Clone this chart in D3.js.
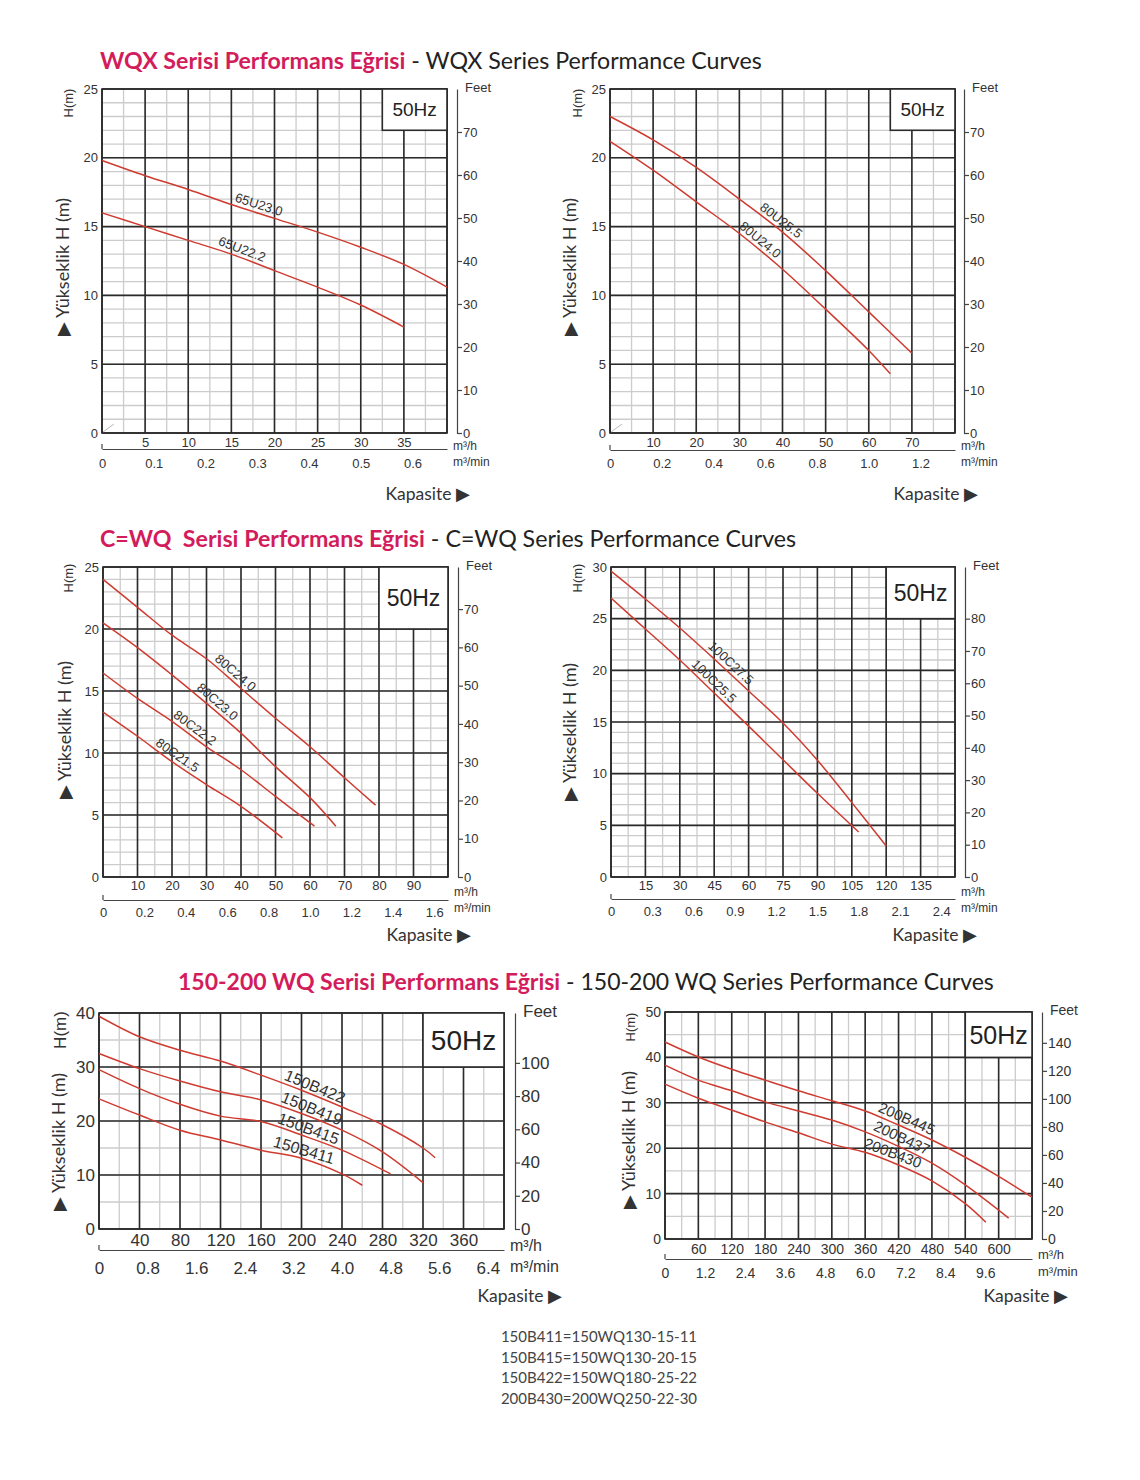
<!DOCTYPE html>
<html>
<head>
<meta charset="utf-8">
<script src="https://cdn.jsdelivr.net/npm/d3@7"></script>
<style>
  body { margin: 0; background: #fff; }
  svg { display: block; }
</style>
</head>
<body>
<svg id="chart" width="1140" height="1480"></svg>
<script>
// ---- curve data (flow m3/h, head m) ----
const q65U230 = [0, 5, 10, 15, 20, 25, 30, 35, 40];
const h65U230 = [19.8, 18.7, 17.7, 16.6, 15.6, 14.6, 13.5, 12.25, 10.6];
const q65U222 = [0, 5, 10, 15, 20, 25, 30, 35];
const h65U222 = [16.0, 15.0, 14.0, 13.0, 11.8, 10.6, 9.3, 7.7];

const q80U255 = [0, 10, 20, 30, 40, 50, 60, 70];
const h80U255 = [23.0, 21.3, 19.3, 17.0, 14.6, 11.8, 8.8, 5.8];
const q80U240 = [0, 10, 20, 30, 40, 50, 60, 65];
const h80U240 = [21.2, 19.1, 16.8, 14.5, 11.9, 9.0, 6.0, 4.3];

const q80C240 = [0, 10, 20, 30, 40, 50, 60, 70, 79];
const h80C240 = [24.0, 21.75, 19.5, 17.6, 15.2, 12.8, 10.5, 8.0, 5.8];
const q80C230 = [0, 10, 20, 30, 40, 50, 60, 67.5];
const h80C230 = [20.5, 18.5, 16.3, 14.0, 11.6, 8.9, 6.4, 4.1];
const q80C222 = [0, 10, 20, 30, 40, 50, 61.3];
const h80C222 = [16.45, 14.4, 12.55, 10.5, 8.65, 6.5, 4.1];
const q80C215 = [0, 10, 20, 30, 40, 52];
const h80C215 = [13.3, 11.35, 9.3, 7.45, 5.7, 3.15];

const q100C275 = [0, 15, 30, 45, 60, 75, 90, 105, 120];
const h100C275 = [29.6, 26.9, 24.1, 21.1, 18.0, 14.9, 11.3, 7.2, 3.0];
const q100C255 = [0, 15, 30, 45, 60, 75, 90, 108];
const h100C255 = [27.0, 24.0, 21.0, 17.8, 14.6, 11.35, 8.1, 4.35];

const q150B422 = [0, 40, 80, 120, 160, 200, 240, 280, 320, 332];
const h150B422 = [39.4, 35.6, 33.1, 31.1, 28.5, 25.7, 22.6, 19.3, 15.0, 13.2];
const q150B419 = [0, 40, 80, 120, 160, 200, 240, 280, 320];
const h150B419 = [32.5, 29.7, 27.4, 25.4, 23.9, 21.4, 18.3, 14.3, 8.6];
const q150B415 = [0, 40, 80, 120, 160, 200, 240, 288];
const h150B415 = [29.5, 26.0, 23.1, 20.9, 19.9, 17.4, 14.6, 10.2];
const q150B411 = [0, 40, 80, 120, 160, 200, 240, 260];
const h150B411 = [24.1, 21.1, 18.3, 16.5, 14.6, 13.1, 10.2, 8.1];

const q200B445 = [0, 60, 120, 180, 240, 300, 360, 420, 480, 540, 600, 660];
const h200B445 = [43.4, 40.1, 37.4, 35.0, 32.65, 30.45, 28.2, 25.1, 21.8, 18.0, 13.8, 9.2];
const q200B437 = [0, 60, 120, 180, 240, 300, 360, 420, 480, 540, 618];
const h200B437 = [38.3, 35.0, 32.65, 30.2, 28.2, 26.2, 23.6, 20.4, 16.7, 11.9, 4.6];
const q200B430 = [0, 60, 120, 180, 240, 300, 360, 420, 480, 540, 577];
const h200B430 = [34.1, 31.0, 28.4, 25.8, 23.4, 20.9, 19.1, 16.3, 12.8, 7.8, 3.7];

// ---- curve names and where their labels sit (flow) ----
const wqxLeftNames = ["65U23.0", "65U22.2"];
const wqxLeftLabelQ = [17.9, 15.9];
const wqxRightNames = ["80U25.5", "80U24.0"];
const wqxRightLabelQ = [38.5, 33.6];
const cwqLeftNames = ["80C24.0", "80C23.0", "80C22.2", "80C21.5"];
const cwqLeftLabelQ = [36.8, 31.6, 25.2, 20.2];
const cwqRightNames = ["100C27.5", "100C25.5"];
const cwqRightLabelQ = [49.8, 42.4];
const b150Names = ["150B422", "150B419", "150B415", "150B411"];
const b150LabelQ = [210, 207, 204, 200];
const b200Names = ["200B445", "200B437", "200B430"];
const b200LabelQ = [428, 419, 404];

// ---- tick labels ----
const headTicks25 = [0, 5, 10, 15, 20, 25];
const headTicks30 = [0, 5, 10, 15, 20, 25, 30];
const headTicks40 = [0, 10, 20, 30, 40];
const headTicks50 = [0, 10, 20, 30, 40, 50];
const flowTicks40 = [5, 10, 15, 20, 25, 30, 35];
const flowTicks80 = [10, 20, 30, 40, 50, 60, 70];
const flowTicks100 = [10, 20, 30, 40, 50, 60, 70, 80, 90];
const flowTicks150 = [15, 30, 45, 60, 75, 90, 105, 120, 135];
const flowTicks400 = [40, 80, 120, 160, 200, 240, 280, 320, 360];
const flowTicks660 = [60, 120, 180, 240, 300, 360, 420, 480, 540, 600];
const minTicks40 = ["0", "0.1", "0.2", "0.3", "0.4", "0.5", "0.6"];
const minTicks80 = ["0", "0.2", "0.4", "0.6", "0.8", "1.0", "1.2"];
const minTicks100 = ["0", "0.2", "0.4", "0.6", "0.8", "1.0", "1.2", "1.4", "1.6"];
const minTicks150 = ["0", "0.3", "0.6", "0.9", "1.2", "1.5", "1.8", "2.1", "2.4"];
const minTicks400 = ["0", "0.8", "1.6", "2.4", "3.2", "4.0", "4.8", "5.6", "6.4"];
const minTicks660 = ["0", "1.2", "2.4", "3.6", "4.8", "6.0", "7.2", "8.4", "9.6"];
const feetTicks70 = [0, 10, 20, 30, 40, 50, 60, 70];
const feetTicks80 = [0, 10, 20, 30, 40, 50, 60, 70, 80];
const feetTicks100 = [0, 20, 40, 60, 80, 100];
const feetTicks140 = [0, 20, 40, 60, 80, 100, 120, 140];

const footNotes = [
  "150B411=150WQ130-15-11",
  "150B415=150WQ130-20-15",
  "150B422=150WQ180-25-22",
  "200B430=200WQ250-22-30"
];

const RED = "#d31c5b";
const CURVE = "#cf3b30";
const TICK_FONT = "'Liberation Sans', Arial, sans-serif";
const TEXT_FONT = "Lato, 'Open Sans', sans-serif";

const svg = d3.select("#chart");

// ---- section titles ----
function title(x, y, size, red, rest) {
  const t = svg.append("text")
    .attr("x", x).attr("y", y)
    .style("font-family", TEXT_FONT)
    .style("font-size", size + "px");
  t.append("tspan").attr("fill", RED).style("font-weight", 700).text(red);
  t.append("tspan").attr("fill", "#222").text(rest);
}
title(100, 69, 23.2, "WQX Serisi Performans Eğrisi", " - WQX Series Performance Curves");
title(100, 547, 23.2, "C=WQ\u00a0 Serisi Performans Eğrisi", " - C=WQ Series Performance Curves");
title(178, 990, 23, "150-200 WQ Serisi Performans Eğrisi", " - 150-200 WQ Series Performance Curves");

function headAt(qs, hs, q) {
  let i = d3.bisectRight(qs, q) - 1;
  i = Math.max(0, Math.min(qs.length - 2, i));
  const t = (q - qs[i]) / (qs[i + 1] - qs[i]);
  return hs[i] + t * (hs[i + 1] - hs[i]);
}

function drawPanel(p) {
  const g = svg.append("g");
  const bottom = p.top + p.height;
  const right = p.left + p.width;

  const x = d3.scaleLinear().domain([0, p.qMax]).range([p.left, right]);
  const y = d3.scaleLinear().domain([0, p.hMax]).range([bottom, p.top]);
  const xMin = d3.scaleLinear().domain([0, p.qMax / 60]).range([p.left, right]);
  const yFeet = d3.scaleLinear().domain([0, p.feetMax]).range([bottom, p.top]);

  // minor grid
  const minorV = d3.range(0, p.qMax + 1e-6, p.qMinor);
  const minorH = d3.range(0, p.hMax + 1e-6, p.hMinor);
  g.append("g").selectAll("line").data(minorV).join("line")
    .attr("x1", d => x(d)).attr("x2", d => x(d))
    .attr("y1", p.top).attr("y2", bottom)
    .attr("stroke", "#cccccc").attr("stroke-width", 1.3);
  g.append("g").selectAll("line").data(minorH).join("line")
    .attr("x1", p.left).attr("x2", right)
    .attr("y1", d => y(d)).attr("y2", d => y(d))
    .attr("stroke", "#cccccc").attr("stroke-width", 1.3);

  // major grid
  const majorV = d3.range(0, p.qMax + 1e-6, p.qMajor);
  const majorH = d3.range(0, p.hMax + 1e-6, p.hMajor);
  g.append("g").selectAll("line").data(majorV).join("line")
    .attr("x1", d => x(d)).attr("x2", d => x(d))
    .attr("y1", p.top).attr("y2", bottom)
    .attr("stroke", "#2b2b2b").attr("stroke-width", 1.6);
  g.append("g").selectAll("line").data(majorH).join("line")
    .attr("x1", p.left).attr("x2", right)
    .attr("y1", d => y(d)).attr("y2", d => y(d))
    .attr("stroke", "#2b2b2b").attr("stroke-width", 1.6);
  g.append("rect")
    .attr("x", p.left).attr("y", p.top)
    .attr("width", p.width).attr("height", p.height)
    .attr("fill", "none").attr("stroke", "#2b2b2b").attr("stroke-width", 1.6);

  if (p.originMark) {
    g.append("line")
      .attr("x1", x(0) + 1).attr("y1", y(0) - 1)
      .attr("x2", x(0) + 12).attr("y2", y(0) - 9)
      .attr("stroke", "#bbbbbb").attr("stroke-width", 1);
  }

  // 50Hz box
  g.append("rect")
    .attr("x", x(p.boxQ)).attr("y", p.top)
    .attr("width", right - x(p.boxQ)).attr("height", y(p.boxH) - p.top)
    .attr("fill", "#fff").attr("stroke", "#2b2b2b").attr("stroke-width", 1.6);
  g.append("text")
    .attr("x", (x(p.boxQ) + right) / 2).attr("y", (p.top + y(p.boxH)) / 2)
    .attr("text-anchor", "middle").attr("dominant-baseline", "central")
    .style("font-family", TICK_FONT).style("font-size", p.hzSize + "px")
    .attr("fill", "#222").text("50Hz");

  // curves
  const line = d3.line()
    .x(d => x(d[0])).y(d => y(d[1]))
    .curve(d3.curveCatmullRom.alpha(0.5));
  p.curves.forEach((c, i) => {
    const pts = c.q.map((q, k) => [q, c.h[k]]);
    g.append("path").datum(pts)
      .attr("d", line)
      .attr("fill", "none")
      .attr("stroke", CURVE)
      .attr("stroke-width", 1.5);

    const lq = p.labelQ[i];
    const lh = headAt(c.q, c.h, lq);
    const dq = p.qMax / 50;
    const ang = Math.atan2(
      y(headAt(c.q, c.h, lq + dq)) - y(headAt(c.q, c.h, lq - dq)),
      x(lq + dq) - x(lq - dq)) * 180 / Math.PI;
    g.append("text")
      .attr("transform", `translate(${x(lq)},${y(lh)}) rotate(${ang})`)
      .attr("dy", -p.labelOff)
      .attr("text-anchor", "middle")
      .style("font-family", TICK_FONT).style("font-size", p.labelSize + "px")
      .attr("fill", "#333")
      .text(p.names[i]);
  });

  // left head axis
  const yAxis = g.append("g")
    .attr("transform", `translate(${p.left},0)`)
    .call(d3.axisLeft(y).tickValues(p.headTicks).tickSize(0).tickPadding(4));
  yAxis.select(".domain").remove();
  yAxis.selectAll("text")
    .style("font-family", TICK_FONT).style("font-size", p.tickSize + "px").attr("fill", "#333");

  // m3/h labels
  const xAxis = g.append("g")
    .attr("transform", `translate(0,${bottom})`)
    .call(d3.axisBottom(x).tickValues(p.flowTicks).tickSize(0).tickPadding(p.hPad));
  xAxis.select(".domain").remove();
  xAxis.selectAll("text")
    .style("font-family", TICK_FONT).style("font-size", p.tickSize + "px").attr("fill", "#333");

  // m3/min axis
  const minVals = p.minTicks.map(Number);
  const mAxisY = bottom + p.minGap;
  const mAxis = g.append("g")
    .attr("transform", `translate(0,${mAxisY})`)
    .call(d3.axisBottom(xMin).tickValues(minVals)
      .tickFormat((d, i) => p.minTicks[i]).tickSize(0).tickSizeOuter(0).tickPadding(p.minPad));
  mAxis.select(".domain").attr("stroke", "#444").attr("stroke-width", 1.2);
  mAxis.selectAll("text")
    .style("font-family", TICK_FONT).style("font-size", p.tickSize + "px").attr("fill", "#333");
  g.append("line")
    .attr("x1", p.left).attr("x2", p.left)
    .attr("y1", mAxisY - 5).attr("y2", mAxisY)
    .attr("stroke", "#444").attr("stroke-width", 1.2);

  // unit labels
  g.append("text").attr("x", right + 6).attr("y", p.unitY1)
    .attr("dominant-baseline", "central")
    .style("font-family", TICK_FONT).style("font-size", p.unitSize + "px").attr("fill", "#333")
    .text("m³/h");
  g.append("text").attr("x", right + 6).attr("y", p.unitY2)
    .attr("dominant-baseline", "central")
    .style("font-family", TICK_FONT).style("font-size", p.unitSize + "px").attr("fill", "#333")
    .text("m³/min");

  // feet axis
  const fx = right + p.feetGap;
  const fAxis = g.append("g")
    .attr("transform", `translate(${fx},0)`)
    .call(d3.axisRight(yFeet).tickValues(p.feetTicks).tickSize(5).tickSizeOuter(0).tickPadding(1));
  fAxis.select(".domain").attr("stroke", "#444").attr("stroke-width", 1.2);
  fAxis.selectAll(".tick line").attr("stroke", "#444").attr("stroke-width", 1.2);
  fAxis.selectAll("text")
    .style("font-family", TICK_FONT).style("font-size", p.tickSize + "px").attr("fill", "#333");
  g.append("text").attr("x", fx + 8).attr("y", p.top - 2)
    .attr("dominant-baseline", "central")
    .style("font-family", TICK_FONT).style("font-size", p.feetSize + "px").attr("fill", "#333")
    .text("Feet");

  // axis titles
  g.append("text")
    .attr("transform", `translate(${p.hmX},${p.hmY}) rotate(-90)`)
    .attr("text-anchor", "middle").attr("dominant-baseline", "central")
    .style("font-family", TICK_FONT).style("font-size", p.hmSize + "px").attr("fill", "#333")
    .text("H(m)");
  g.append("text")
    .attr("transform", `translate(${p.ykX},${p.ykY}) rotate(-90)`)
    .attr("text-anchor", "middle").attr("dominant-baseline", "central")
    .style("font-family", TEXT_FONT).style("font-size", p.ykSize + "px").attr("fill", "#333")
    .text("▶ Yükseklik H (m)");
  g.append("text")
    .attr("x", p.kapX).attr("y", p.kapY)
    .attr("text-anchor", "end").attr("dominant-baseline", "central")
    .style("font-family", TEXT_FONT).style("font-size", "17.5px").attr("fill", "#333")
    .text("Kapasite ▶");
}

const panels = [
  { left: 102, top: 89, width: 345, height: 344, qMax: 40, qMajor: 5, qMinor: 2.5,
    hMax: 25, hMajor: 5, hMinor: 1, feetMax: 80, boxQ: 32.5, boxH: 22, hzSize: 19,
    curves: [{ q: q65U230, h: h65U230 }, { q: q65U222, h: h65U222 }],
    names: wqxLeftNames, labelQ: wqxLeftLabelQ, labelSize: 13, labelOff: 4,
    headTicks: headTicks25, flowTicks: flowTicks40, minTicks: minTicks40, feetTicks: feetTicks70,
    tickSize: 13, hPad: 5, minGap: 16, minPad: 10, unitY1: 446, unitY2: 462, unitSize: 12,
    feetGap: 10, feetSize: 13, originMark: true,
    hmX: 68, hmY: 103, hmSize: 13, ykX: 62, ykY: 267, ykSize: 18, kapX: 470, kapY: 493 },
  { left: 610, top: 89, width: 345, height: 344, qMax: 80, qMajor: 10, qMinor: 5,
    hMax: 25, hMajor: 5, hMinor: 1, feetMax: 80, boxQ: 65, boxH: 22, hzSize: 19,
    curves: [{ q: q80U255, h: h80U255 }, { q: q80U240, h: h80U240 }],
    names: wqxRightNames, labelQ: wqxRightLabelQ, labelSize: 13, labelOff: 4,
    headTicks: headTicks25, flowTicks: flowTicks80, minTicks: minTicks80, feetTicks: feetTicks70,
    tickSize: 13, hPad: 5, minGap: 17, minPad: 9, unitY1: 446, unitY2: 462, unitSize: 12,
    feetGap: 9, feetSize: 13, originMark: true,
    hmX: 577, hmY: 103, hmSize: 13, ykX: 569, ykY: 267, ykSize: 18, kapX: 978, kapY: 493 },
  { left: 103, top: 567, width: 345, height: 310, qMax: 100, qMajor: 10, qMinor: 5,
    hMax: 25, hMajor: 5, hMinor: 1, feetMax: 81, boxQ: 80, boxH: 20, hzSize: 23,
    curves: [{ q: q80C240, h: h80C240 }, { q: q80C230, h: h80C230 },
             { q: q80C222, h: h80C222 }, { q: q80C215, h: h80C215 }],
    names: cwqLeftNames, labelQ: cwqLeftLabelQ, labelSize: 13, labelOff: 4,
    headTicks: headTicks25, flowTicks: flowTicks100, minTicks: minTicks100, feetTicks: feetTicks70,
    tickSize: 13, hPad: 4, minGap: 23, minPad: 8, unitY1: 892, unitY2: 908, unitSize: 12,
    feetGap: 10, feetSize: 13, originMark: false,
    hmX: 68, hmY: 578, hmSize: 13, ykX: 64, ykY: 730, ykSize: 18, kapX: 471, kapY: 934 },
  { left: 611, top: 567, width: 344, height: 310, qMax: 150, qMajor: 15, qMinor: 7.5,
    hMax: 30, hMajor: 5, hMinor: 1, feetMax: 96, boxQ: 120, boxH: 25, hzSize: 23,
    curves: [{ q: q100C275, h: h100C275 }, { q: q100C255, h: h100C255 }],
    names: cwqRightNames, labelQ: cwqRightLabelQ, labelSize: 13, labelOff: 4,
    headTicks: headTicks30, flowTicks: flowTicks150, minTicks: minTicks150, feetTicks: feetTicks80,
    tickSize: 13, hPad: 4, minGap: 22, minPad: 8, unitY1: 892, unitY2: 908, unitSize: 12,
    feetGap: 10, feetSize: 13, originMark: false,
    hmX: 577, hmY: 578, hmSize: 13, ykX: 569, ykY: 732, ykSize: 18, kapX: 977, kapY: 934 },
  { left: 99, top: 1013, width: 405, height: 216, qMax: 400, qMajor: 40, qMinor: 20,
    hMax: 40, hMajor: 10, hMinor: 5, feetMax: 130, boxQ: 320, boxH: 30, hzSize: 28,
    curves: [{ q: q150B422, h: h150B422 }, { q: q150B419, h: h150B419 },
             { q: q150B415, h: h150B415 }, { q: q150B411, h: h150B411 }],
    names: b150Names, labelQ: b150LabelQ, labelSize: 16, labelOff: 3,
    headTicks: headTicks40, flowTicks: flowTicks400, minTicks: minTicks400, feetTicks: feetTicks100,
    tickSize: 17, hPad: 5, minGap: 21, minPad: 12, unitY1: 1245, unitY2: 1266, unitSize: 16,
    feetGap: 11, feetSize: 17, originMark: false,
    hmX: 60, hmY: 1030, hmSize: 17, ykX: 58, ykY: 1142, ykSize: 18, kapX: 562, kapY: 1295 },
  { left: 665, top: 1012, width: 367, height: 227, qMax: 660, qMajor: 60, qMinor: 30,
    hMax: 50, hMajor: 10, hMinor: 5, feetMax: 162, boxQ: 540, boxH: 40, hzSize: 25,
    curves: [{ q: q200B445, h: h200B445 }, { q: q200B437, h: h200B437 }, { q: q200B430, h: h200B430 }],
    names: b200Names, labelQ: b200LabelQ, labelSize: 15, labelOff: 4,
    headTicks: headTicks50, flowTicks: flowTicks660, minTicks: minTicks660, feetTicks: feetTicks140,
    tickSize: 14, hPad: 5, minGap: 20, minPad: 9, unitY1: 1254, unitY2: 1271, unitSize: 13,
    feetGap: 10, feetSize: 14, originMark: false,
    hmX: 630, hmY: 1027, hmSize: 13, ykX: 628, ykY: 1140, ykSize: 18, kapX: 1068, kapY: 1295 }
];

panels.forEach(drawPanel);

// model code notes
svg.append("g").selectAll("text").data(footNotes).join("text")
  .attr("x", 599).attr("y", (d, i) => 1336 + i * 20.7)
  .attr("text-anchor", "middle").attr("dominant-baseline", "central")
  .style("font-family", TEXT_FONT).style("font-size", "15px").attr("fill", "#444")
  .text(d => d);
</script>
</body>
</html>
